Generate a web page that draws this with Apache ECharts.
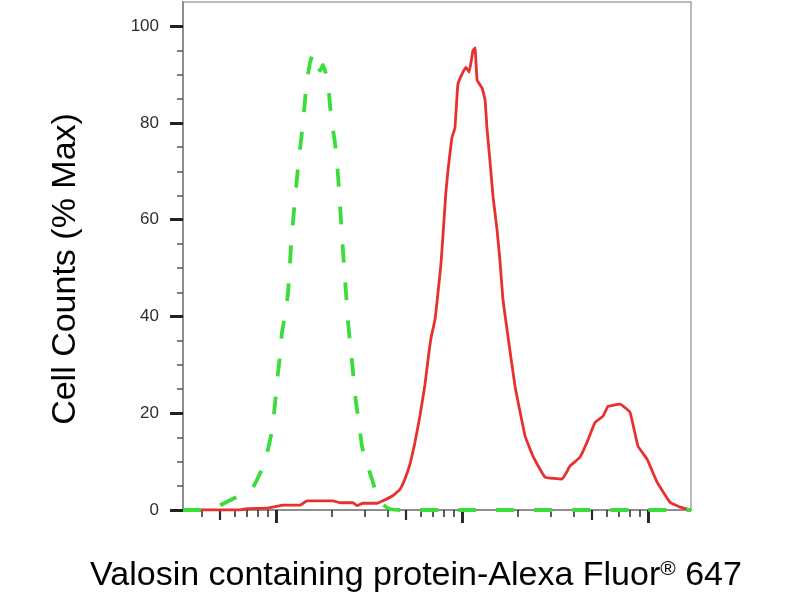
<!DOCTYPE html>
<html>
<head>
<meta charset="utf-8">
<title>Valosin containing protein - flow histogram</title>
<script src="https://cdn.jsdelivr.net/npm/echarts@6.0.0/dist/echarts.min.js"></script>
<style>
    html, body {margin: 0; padding: 0; background: #ffffff;}
    #main {width: 800px; height: 600px;}
</style>
</head>
<body>
<div id="main"></div>
<script>
// x = log10 of fluorescence intensity, y = cell counts (% of max)
const stained_x = [1.5, 1.806, 1.844, 1.952, 1.995, 2.038, 2.129, 2.167, 2.306, 2.344, 2.414, 2.435, 2.468, 2.543,
    2.575, 2.629, 2.667, 2.694, 2.72, 2.747, 2.774, 2.801, 2.817, 2.833, 2.855, 2.871, 2.887, 2.898, 2.914, 2.925,
    2.946, 2.962, 2.978, 3.005, 3.022, 3.038, 3.059, 3.07, 3.081, 3.108, 3.124, 3.134, 3.151, 3.167, 3.188, 3.204,
    3.22, 3.247, 3.285, 3.339, 3.382, 3.446, 3.538, 3.581, 3.634, 3.672, 3.715, 3.758, 3.785, 3.849, 3.903, 3.946,
    3.995, 4.048, 4.118, 4.172, 4.231];
const stained_y = [0, 0, 0.3, 0.4, 0.7, 1.0, 1.0, 1.9, 1.9, 1.5, 1.5, 0.9, 1.4, 1.4,
    1.9, 3.0, 4.3, 6.5, 9.5, 14, 19.5, 26, 31, 35.5, 39.4, 45, 51, 57, 66, 70.3,
    77, 79, 88, 90.5, 91.5, 90.5, 95, 95.5, 88.9, 87.2, 84.7, 79, 71.8, 64.7, 58, 51.5,
    43.5, 35.9, 25.6, 15.3, 11.1, 6.8, 6.4, 9.1, 10.9, 14, 18.1, 19.4, 21.4, 21.9, 20.2, 13.2,
    10.5, 5.8, 1.6, 0.6, 0];

const control_x = [1.5, 1.618, 1.672, 1.71, 1.79, 1.876, 1.93, 1.957, 1.978, 1.995, 2.011, 2.022, 2.032, 2.048,
    2.065, 2.081, 2.099, 2.121, 2.145, 2.164, 2.183, 2.199, 2.226, 2.237, 2.253, 2.28, 2.29, 2.301, 2.317, 2.328,
    2.339, 2.349, 2.358, 2.366, 2.376, 2.387, 2.398, 2.409, 2.419, 2.43, 2.446, 2.462, 2.484, 2.516, 2.548, 2.586,
    2.613, 2.667, 4.231];
const control_y = [0, 0, 0.4, 1.2, 2.7, 4.7, 8.9, 12.6, 16.3, 22, 28.5, 32, 36.7, 40,
    45, 54.7, 63, 71.8, 80, 88, 92.5, 94.4, 91.5, 90.8, 92, 88.4, 83.7, 80, 75.9, 71.8,
    66, 60, 55, 50, 45, 39, 34.6, 30.5, 26.4, 22.3, 18, 13.2, 10, 6.4, 2.3, 0.8,
    0.2, 0, 0];

const y_major_ticks = [0, 20, 40, 60, 80, 100];
const y_minor_ticks = [5, 10, 15, 25, 30, 35, 45, 50, 55, 65, 70, 75, 85, 90, 95];
const x_decades = [1, 2, 3, 4];
const x_minor_mults = [2, 3, 4, 6, 7, 8, 9];
const x_min = 1.5, x_max = 4.231;

function in_range(v) {
    return v >= x_min && v <= x_max;
}

let x_long_ticks = x_decades.filter(in_range);
let x_mid_ticks = x_decades.map(d => d + Math.log10(5)).filter(in_range);
let x_short_ticks = [];
x_decades.forEach(d => {
    x_minor_mults.forEach(m => {
        let v = d + Math.log10(m);
        if (in_range(v)) x_short_ticks.push(v);
    });
});

function zip(xs, ys) {
    return xs.map((x, i) => [x, ys[i]]);
}

const font_name = '"Liberation Sans", Arial, sans-serif';

function tick_axis(ticks, len, width, with_line) {
    return {
        type: 'value', gridIndex: 0, position: 'bottom', min: x_min, max: x_max,
        axisLine: {show: with_line, onZero: false, lineStyle: {color: '#8e8e8e', width: 2}},
        axisTick: {show: true, customValues: ticks, length: len, lineStyle: {color: '#2a2a2a', width: width}},
        axisLabel: {show: false},
        splitLine: {show: false}
    };
}

let my_chart = echarts.init(document.getElementById('main'));
my_chart.setOption({
    animation: false,
    backgroundColor: '#ffffff',
    grid: {
        left: 183, top: 2, right: 109, bottom: 90,
        show: true, borderColor: '#a4a4a4', borderWidth: 1.5
    },
    xAxis: [
        tick_axis(x_short_ticks, 7, 1.5, true),
        tick_axis(x_mid_ticks, 10, 2.2, false),
        tick_axis(x_long_ticks, 13, 3, false)
    ],
    yAxis: [
        {
            type: 'value', position: 'left', min: 0, max: 105,
            axisLine: {show: true, lineStyle: {color: '#8e8e8e', width: 2}},
            axisTick: {show: true, customValues: y_major_ticks, length: 13, lineStyle: {color: '#222222', width: 3}},
            axisLabel: {customValues: y_major_ticks, margin: 24, fontSize: 17, color: '#2e2e2e', fontFamily: font_name},
            splitLine: {show: false}
        },
        {
            type: 'value', position: 'left', min: 0, max: 105,
            axisLine: {show: false},
            axisTick: {show: true, customValues: y_minor_ticks, length: 6, lineStyle: {color: '#555555', width: 1.5}},
            axisLabel: {show: false},
            splitLine: {show: false}
        }
    ],
    series: [
        {
            name: 'Valosin containing protein', type: 'line', xAxisIndex: 0, yAxisIndex: 0,
            data: zip(stained_x, stained_y), showSymbol: false, smooth: 0.1,
            lineStyle: {color: '#e8302e', width: 2.8}, z: 2
        },
        {
            name: 'Isotype control', type: 'line', xAxisIndex: 0, yAxisIndex: 0,
            data: zip(control_x, control_y), showSymbol: false, smooth: 0.1,
            lineStyle: {color: '#3ade3a', width: 3.8, type: [18, 20]}, z: 3
        }
    ],
    graphic: [
        {
            type: 'text', x: 66, y: 269, rotation: Math.PI / 2,
            style: {
                text: 'Cell Counts (% Max)', fill: '#000000',
                font: '34px ' + font_name, align: 'center', verticalAlign: 'middle'
            }
        },
        {
            type: 'text', x: 416, y: 576,
            style: {
                text: '{a|Valosin containing protein-Alexa Fluor}{r|®}{a| 647}',
                align: 'center', verticalAlign: 'middle',
                rich: {
                    a: {fontSize: 34, fontFamily: font_name, fill: '#000000', color: '#000000'},
                    r: {fontSize: 21, fontFamily: font_name, fill: '#000000', color: '#000000', verticalAlign: 'top'}
                }
            }
        }
    ]
});
</script>
</body>
</html>
